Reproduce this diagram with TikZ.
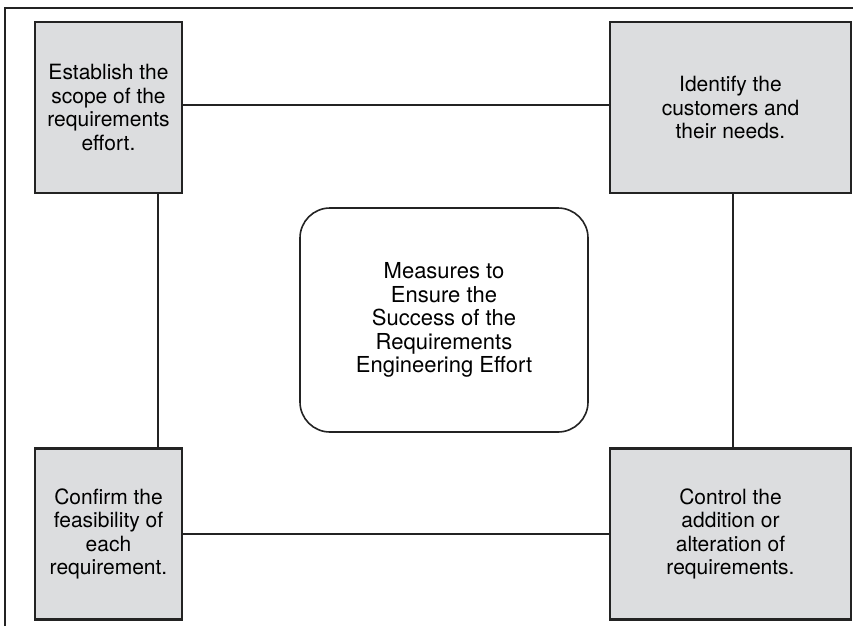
\documentclass[tikz,border=0pt]{standalone}
\usepackage{fontspec}
\setmainfont{TeX Gyre Heros}
\definecolor{boxgray}{RGB}{220,221,223}
\definecolor{edgegray}{RGB}{35,35,35}

\begin{document}
\begin{tikzpicture}[%
		x=1pt, y=-1pt,
		stepbox/.style={draw=edgegray, line width=2.2pt, fill=boxgray,
			minimum width=147pt, minimum height=171pt, inner sep=0pt,
			align=center, font=\fontsize{21}{23.5}\selectfont},
		goalbox/.style={draw=edgegray, line width=1.6pt, rounded corners=30pt,
			minimum width=288pt, minimum height=224pt, inner sep=0pt,
			align=center, font=\fontsize{22}{23.5}\selectfont},
		link/.style={draw=edgegray, line width=1.8pt}]
		\useasboundingbox (0,0) rectangle (853,626);
		\clip (0,0) rectangle (853,626);
		\fill[white] (0,0) rectangle (853,626);
		% frame
		\draw[edgegray, line width=1.2pt] (5,626) -- (5,8) -- (853,8);
		% the four steps
		\node[stepbox] (scope) at (108.5,107.5) {Establish the\\scope of the\\requirements\\effort.};
		\node[stepbox, minimum width=241pt] (customers) at (730.5,107.5) {Identify the\\customers and\\their needs.};
		\node[stepbox] (feasibility) at (108.5,534) {Confirm the\\feasibility of\\each\\requirement.};
		\node[stepbox, minimum width=241pt] (changes) at (730.5,534) {Control the\\addition or\\alteration of\\requirements.};
		\draw[link] ([yshift=2.5pt]scope.east) -- ([yshift=2.5pt]customers.west);
		\draw[link] ([xshift=-25pt]scope.south east) -- ([xshift=-25pt]feasibility.north east);
		\draw[link] ([xshift=2.5pt]customers.south) -- ([xshift=2.5pt]changes.north);
		\draw[link] (feasibility) -- (changes);
		% the goal in the middle
		\node[goalbox] (goal) at (444,320) {Measures to\\Ensure the\\Success of the\\Requirements\\Engineering Effort};
	\end{tikzpicture}
\end{document}
